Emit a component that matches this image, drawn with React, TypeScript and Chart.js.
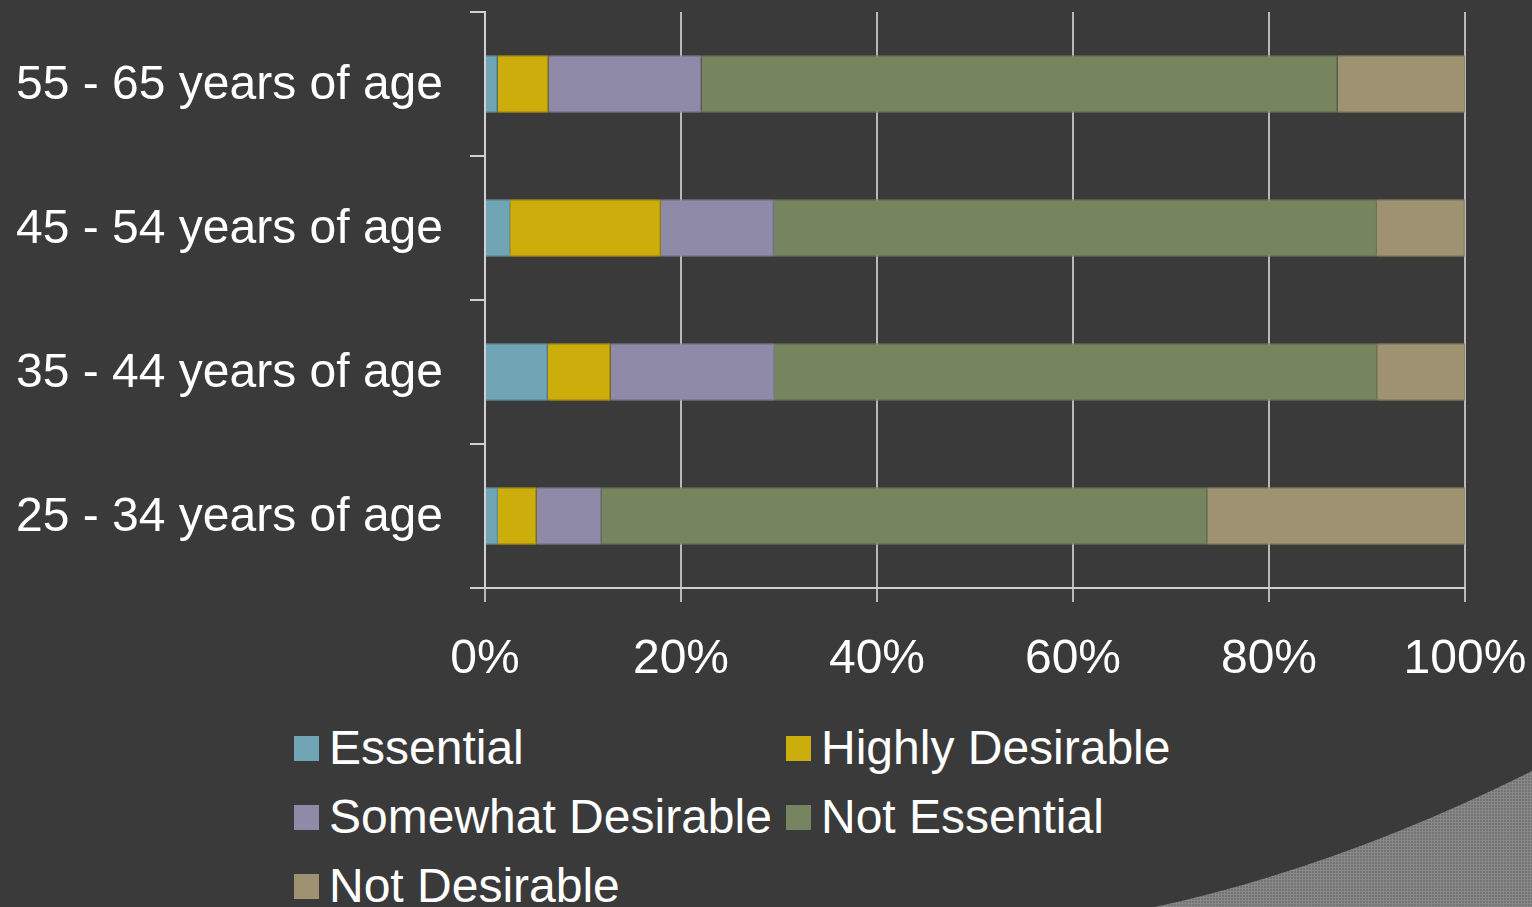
import { useEffect, useRef } from 'react';
import { Chart, registerables } from 'chart.js';

Chart.register(...registerables);

const categories = [
  '55 - 65 years of age',
  '45 - 54 years of age',
  '35 - 44 years of age',
  '25 - 34 years of age',
];
const seriesNames = ['Essential', 'Highly Desirable', 'Somewhat Desirable', 'Not Essential', 'Not Desirable'];
const essential = [1.3, 2.56, 6.41, 1.32];
const highlyDesirable = [5.19, 15.38, 6.41, 3.95];
const somewhatDesirable = [15.58, 11.54, 16.67, 6.58];
const notEssential = [64.94, 61.54, 61.54, 61.84];
const notDesirable = [12.99, 8.97, 8.97, 26.32];
const xTickValues = [0, 20, 40, 60, 80, 100];

const colors = ['#71a4b4', '#cbae0b', '#8e8aa7', '#76845f', '#9e9272'];
const borders = ['#679aaa', '#b89d0a', '#807c98', '#6a7756', '#8f8466'];
const FONT = '"Liberation Sans", Arial, Helvetica, sans-serif';
const BG = '#3a3a3a';

export default function App() {
  const canvasRef = useRef<HTMLCanvasElement | null>(null);

  useEffect(() => {
    if (!canvasRef.current) return;
    const seriesValues = [essential, highlyDesirable, somewhatDesirable, notEssential, notDesirable];
    const chart = new Chart(canvasRef.current, {
      type: 'bar',
      data: {
        labels: categories,
        datasets: seriesNames.map((name, i) => ({
          label: name,
          data: seriesValues[i],
          backgroundColor: colors[i],
          borderColor: borders[i],
          borderWidth: 1,
          categoryPercentage: 0.8,
          barPercentage: 0.5,
        })),
      },
      options: {
        indexAxis: 'y',
        responsive: false,
        animation: false,
        events: [],
        layout: { padding: { top: 12, right: 67, left: 0, bottom: 0 } },
        plugins: {
          legend: { display: false },
          tooltip: { enabled: false },
          title: { display: false },
        },
        scales: {
          x: {
            type: 'linear',
            stacked: true,
            min: 0,
            max: 100,
            afterBuildTicks: (s: any) => {
              s.ticks = xTickValues.map((v) => ({ value: v }));
            },
            afterFit: (s: any) => {
              s.height = 112;
              s.paddingLeft = 0;
              s.paddingRight = 0;
            },
            ticks: {
              color: '#ffffff',
              font: { family: FONT, size: 48 },
              padding: 29,
              maxRotation: 0,
              callback: (v: any) => v + '%',
            },
            grid: {
              color: '#b8b8b8',
              lineWidth: 2,
              tickLength: 14,
              drawTicks: true,
            },
            border: { color: '#d0d0d0', width: 2 },
          },
          y: {
            type: 'category',
            stacked: true,
            afterFit: (s: any) => {
              s.width = 485;
              s.paddingTop = 0;
              s.paddingBottom = 0;
            },
            ticks: {
              color: '#ffffff',
              font: { family: FONT, size: 48 },
              padding: 27,
              labelOffset: 2,
            },
            grid: {
              drawOnChartArea: false,
              color: '#d0d0d0',
              lineWidth: 2,
              tickLength: 15,
            },
            border: { color: '#d0d0d0', width: 2 },
          },
        },
      },
    });
    return () => chart.destroy();
  }, []);

  return (
    <div
      style={{
        position: 'fixed',
        left: 0,
        top: 0,
        width: 1532,
        height: 907,
        background: BG,
        overflow: 'hidden',
        fontFamily: FONT,
      }}
    >
      <svg width={1532} height={907} style={{ position: 'absolute', left: 0, top: 0 }}>
        <defs>
          <pattern id="dots" width="3" height="3" patternUnits="userSpaceOnUse">
            <rect width="3" height="3" fill="#747474" />
            <rect width="3" height="1" fill="#888888" />
            <rect width="1" height="3" fill="#888888" />
          </pattern>
        </defs>
        <path d="M1155,907 Q1342,866 1532,771 L1532,907 Z" fill="url(#dots)" />
      </svg>
      <canvas
        ref={canvasRef}
        width={1532}
        height={700}
        style={{ position: 'absolute', left: 0, top: 0, width: 1532, height: 700 }}
      />
      {seriesNames.map((name, i) => {
        const col = i % 2;
        const row = Math.floor(i / 2);
        const left = col === 0 ? 294 : 786;
        const centerY = 748 + row * 69;
        return (
          <div
            key={name}
            style={{
              position: 'absolute',
              left,
              top: centerY - 35,
              height: 70,
              display: 'flex',
              alignItems: 'center',
              whiteSpace: 'nowrap',
            }}
          >
            <span
              style={{
                display: 'inline-block',
                width: 25,
                height: 25,
                background: colors[i],
                marginRight: 10,
              }}
            />
            <span style={{ color: '#ffffff', fontSize: 48, lineHeight: '70px' }}>{name}</span>
          </div>
        );
      })}
    </div>
  );
}
